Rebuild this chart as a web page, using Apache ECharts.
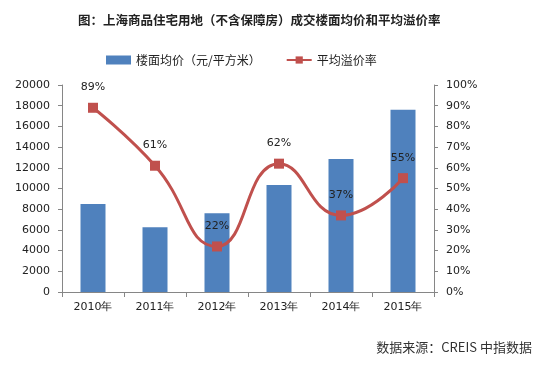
<!DOCTYPE html>
<html><head><meta charset="utf-8">
<script src="https://cdn.jsdelivr.net/npm/echarts@6/dist/echarts.min.js"></script>
<style>html,body{margin:0;padding:0;background:#fff}#c{width:548px;height:368px}</style>
</head><body><div id="c"></div>
<script>
const categories = ['2010年','2011年','2012年','2013年','2014年','2015年'];
const floorPrice = [8500, 6250, 7600, 10350, 12850, 17600];
const premiumRate = [89, 61, 22, 62, 37, 55];
const leftTicks = [0, 2000, 20000];
const rightTicks = [0, 10, 100];

const font = '"DejaVu Sans", Verdana, sans-serif';
const cjk = '"Noto Sans CJK SC", sans-serif';
const axisColor = '#868686';
const chart = echarts.init(document.getElementById('c'));
chart.setOption({
  animation: false,
  title: {
    text: '图：上海商品住宅用地（不含保障房）成交楼面均价和平均溢价率',
    left: 73, top: 9,
    textStyle: { fontFamily: cjk, fontSize: 12.5, fontWeight: 'bold', color: '#222' }
  },
  legend: {
    top: 49, left: 101, itemGap: 25,
    textStyle: { fontFamily: cjk, fontSize: 12, color: '#222' },
    itemWidth: 25, itemHeight: 9,
    data: [
      { name: '楼面均价（元/平方米）', icon: 'rect' },
      { name: '平均溢价率' }
    ]
  },
  graphic: [{
    type: 'text', right: 16, top: 341,
    style: { text: '数据来源：CREIS 中指数据', font: '13px ' + cjk, fill: '#333' }
  }],
  grid: { left: 62, right: 114, top: 85, bottom: 76, containLabel: false },
  xAxis: {
    type: 'category', data: categories, boundaryGap: true,
    axisLine: { lineStyle: { color: axisColor } },
    axisTick: { show: true, alignWithLabel: false, length: 5, lineStyle: { color: axisColor } },
    axisLabel: { fontFamily: font, fontSize: 11, color: '#222', margin: 10 }
  },
  yAxis: [{
    type: 'value', min: leftTicks[0], max: leftTicks[2], interval: leftTicks[1],
    axisLine: { show: true, lineStyle: { color: axisColor } },
    axisTick: { show: true, length: 4, lineStyle: { color: axisColor } },
    splitLine: { show: false },
    axisLabel: { fontFamily: font, fontSize: 11, color: '#222', margin: 12, formatter: v => String(v) }
  }, {
    type: 'value', min: rightTicks[0], max: rightTicks[2], interval: rightTicks[1],
    axisLine: { show: true, lineStyle: { color: axisColor } },
    axisTick: { show: true, length: 4, lineStyle: { color: axisColor } },
    splitLine: { show: false },
    axisLabel: { fontFamily: font, fontSize: 11, color: '#222', margin: 12, formatter: '{value}%' }
  }],
  series: [{
    name: '楼面均价（元/平方米）', type: 'bar', data: floorPrice, barWidth: 25,
    itemStyle: { color: '#4F81BD' }
  }, {
    name: '平均溢价率', type: 'line', yAxisIndex: 1, data: premiumRate, smooth: 0.5,
    symbol: 'rect', symbolSize: 10,
    lineStyle: { color: '#C0504D', width: 3 },
    itemStyle: { color: '#C0504D' },
    label: { show: true, position: 'top', distance: 10, formatter: '{c}%',
      fontFamily: font, fontSize: 11, color: '#222' }
  }]
});
</script></body></html>
